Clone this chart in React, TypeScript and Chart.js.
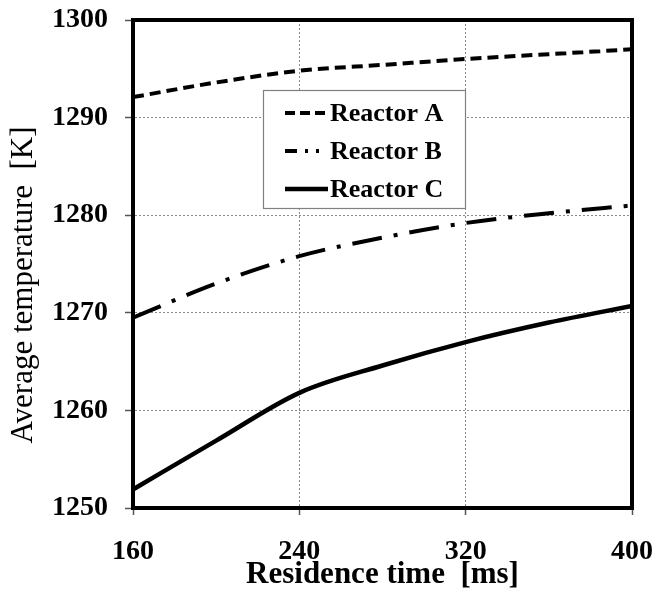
import React, { useEffect, useRef } from "react";
import { Chart, registerables } from "chart.js";

Chart.register(...registerables);

const residenceTimes = [160, 200, 240, 280, 320, 360, 400];
const reactorA = [1292.1, 1293.6, 1294.8, 1295.4, 1296.0, 1296.5, 1297.0];
const reactorB = [1269.5, 1273.0, 1275.8, 1277.7, 1279.2, 1280.2, 1281.0];
const reactorC = [1251.9, 1256.9, 1261.8, 1264.6, 1267.0, 1269.0, 1270.7];
const seriesLabels = ["Reactor A", "Reactor B", "Reactor C"];
const xTicks = [160, 240, 320, 400];
const yTicks = [1250, 1260, 1270, 1280, 1290, 1300];
const xTitle = "Residence time  [ms]";
const yTitle = "Average temperature  [K]";

const SERIF = "'Liberation Serif', 'Times New Roman', serif";

const framePlugin = {
  id: "frame",
  afterDatasetsDraw(chart: any) {
    const { ctx, chartArea: a } = chart;
    ctx.save();
    ctx.strokeStyle = "#000";
    ctx.lineWidth = 4;
    ctx.setLineDash([]);
    ctx.strokeRect(a.left, a.top, a.right - a.left, a.bottom - a.top);
    ctx.restore();
  },
};

const yTitlePlugin = {
  id: "yTitle",
  afterDraw(chart: any) {
    const { ctx, chartArea: a } = chart;
    ctx.save();
    ctx.translate(24, a.top + 265);
    ctx.rotate(-Math.PI / 2);
    ctx.fillStyle = "#000";
    ctx.font = `31px ${SERIF}`;
    ctx.textAlign = "center";
    ctx.textBaseline = "middle";
    ctx.fillText(yTitle, 0, 0);
    ctx.restore();
  },
};

const legendPlugin = {
  id: "insideLegend",
  afterDraw(chart: any) {
    const { ctx, chartArea: a } = chart;
    const bx = a.left + 130;
    const by = a.top + 70;
    const bw = 202;
    const bh = 118;
    ctx.save();
    ctx.fillStyle = "#fff";
    ctx.fillRect(bx, by, bw, bh);
    ctx.strokeStyle = "#808080";
    ctx.lineWidth = 1.2;
    ctx.setLineDash([]);
    ctx.strokeRect(bx + 0.5, by + 0.5, bw, bh);
    chart.data.datasets.forEach((ds: any, i: number) => {
      const y = by + 23 + i * 38;
      ctx.strokeStyle = "#000";
      ctx.lineWidth = ds.borderWidth;
      ctx.setLineDash(ds.legendDash || ds.borderDash || []);
      ctx.beginPath();
      ctx.moveTo(bx + 22, y);
      ctx.lineTo(bx + 65, y);
      ctx.stroke();
      ctx.setLineDash([]);
      ctx.fillStyle = "#000";
      ctx.font = `bold 26px ${SERIF}`;
      ctx.textBaseline = "middle";
      ctx.textAlign = "left";
      ctx.fillText(ds.label, bx + 67, y + 1);
    });
    ctx.restore();
  },
};

export default function App() {
  const ref = useRef<HTMLCanvasElement>(null);

  useEffect(() => {
    const canvas = ref.current;
    if (!canvas) return;
    const mk = (vals: number[]) => residenceTimes.map((x, i) => ({ x, y: vals[i] }));
    const chart = new Chart(canvas, {
      type: "line",
      data: {
        datasets: [
          {
            label: seriesLabels[0],
            data: mk(reactorA),
            borderColor: "#000",
            borderWidth: 4,
            borderDash: [11, 6],
            legendDash: [10, 5],
            pointRadius: 0,
            tension: 0.4,
            cubicInterpolationMode: "monotone",
          } as any,
          {
            label: seriesLabels[1],
            data: mk(reactorB),
            borderColor: "#000",
            borderWidth: 4,
            borderDash: [30, 12, 4, 12],
            legendDash: [12, 8, 3, 8, 3, 30],
            pointRadius: 0,
            tension: 0.4,
            cubicInterpolationMode: "monotone",
          } as any,
          {
            label: seriesLabels[2],
            data: mk(reactorC),
            borderColor: "#000",
            borderWidth: 4.5,
            pointRadius: 0,
            tension: 0.4,
            cubicInterpolationMode: "monotone",
          },
        ],
      },
      options: {
        responsive: false,
        animation: false,
        devicePixelRatio: 1,
        layout: { padding: { top: 20, right: 22, left: 0, bottom: 0 } },
        plugins: { legend: { display: false }, tooltip: { enabled: false } },
        scales: {
          x: {
            type: "linear",
            min: xTicks[0],
            max: xTicks[xTicks.length - 1],
            afterBuildTicks: (s: any) => {
              s.ticks = xTicks.map((v) => ({ value: v }));
            },
            afterFit: (s: any) => {
              s.height = 86;
              s.paddingLeft = 0;
              s.paddingRight = 0;
            },
            ticks: {
              color: "#000",
              font: { family: SERIF, size: 28, weight: "bold" },
              padding: 20,
              maxRotation: 0,
            },
            grid: {
              color: "#8a8a8a",
              lineWidth: 1,
              tickLength: 7,
              tickColor: "#555",
              tickWidth: 1.5,
            },
            border: { color: "#000", width: 4, dash: [2, 2] },
            title: {
              display: true,
              text: xTitle,
              color: "#000",
              font: { family: SERIF, size: 31, weight: "bold" },
              padding: { top: 0, bottom: 0 },
            },
          },
          y: {
            type: "linear",
            min: yTicks[0],
            max: yTicks[yTicks.length - 1],
            afterBuildTicks: (s: any) => {
              s.ticks = yTicks.map((v) => ({ value: v }));
            },
            afterFit: (s: any) => {
              s.width = 133;
              s.paddingTop = 0;
              s.paddingBottom = 0;
            },
            ticks: {
              color: "#000",
              font: { family: SERIF, size: 28, weight: "bold" },
              padding: 17,
              callback: (v: any) => String(v),
            },
            grid: {
              color: "#8a8a8a",
              lineWidth: 1,
              tickLength: 8,
              tickColor: "#555",
              tickWidth: 1.5,
            },
            border: { color: "#000", width: 4, dash: [2, 2] },
          },
        },
      },
      plugins: [framePlugin, legendPlugin, yTitlePlugin],
    });
    return () => chart.destroy();
  }, []);

  return (
    <div style={{ position: "absolute", left: 0, top: 0, width: 654, height: 594, background: "#fff" }}>
      <canvas ref={ref} width={654} height={594} style={{ width: 654, height: 594 }} />
    </div>
  );
}
